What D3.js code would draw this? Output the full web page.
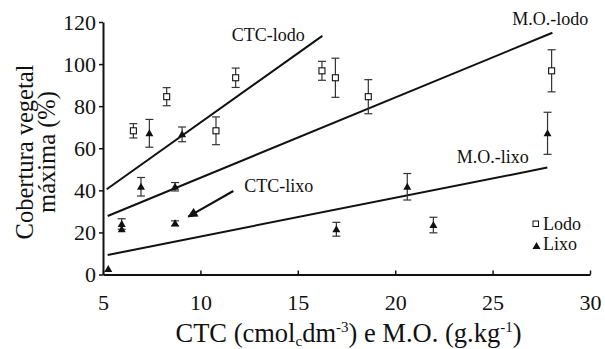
<!DOCTYPE html>
<html><head><meta charset="utf-8">
<script src="https://cdn.jsdelivr.net/npm/d3@7"></script>
<style>body{margin:0;background:#fff}svg{display:block}</style>
</head><body><svg id="c" width="605" height="349"></svg>
<script>
// ---- data ----
const xTicks = [5, 10, 15, 20, 25, 30];
const yTicks = [0, 20, 40, 60, 80, 100, 120];
const lodoX = [6.56, 8.27, 10.80, 11.81, 16.24, 16.93, 18.62, 28.03];
const lodoY = [68.3, 84.5, 68.3, 93.5, 96.8, 93.5, 84.5, 96.8];
const lodoErr = [3.4, 4.3, 6.6, 4.6, 4.5, 9.3, 8.1, 10];
const lixoX = [5.27, 5.96, 5.96, 6.95, 7.38, 8.70, 8.70, 9.06, 16.98, 20.62, 21.96, 27.82];
const lixoY = [2.6, 24.0, 21.5, 41.7, 67.1, 41.7, 24.3, 66.6, 21.5, 41.7, 23.5, 67.1];
const lixoErr = [0, 2.5, 0, 4.4, 6.6, 2.0, 1.2, 3.5, 3.3, 6.3, 3.7, 10];
// regression lines: name, intercept, slope, x range
const lineNames = ["CTC-lodo", "M.O.-lodo", "M.O.-lixo"];
const lineIntercept = [6.32, 7.81, -0.33];
const lineSlope = [6.585, 3.815, 1.839];
const lineFrom = [5.19, 5.24, 5.24];
const lineTo = [16.26, 28.07, 27.81];
// annotation labels (data coordinates)
const labelText = ["CTC-lodo", "M.O.-lodo", "M.O.-lixo", "CTC-lixo"];
const labelX = [11.61, 26.01, 23.16, 12.25];
const labelY = [111.1, 118.6, 52.9, 39.4];
const arrowFrom = [11.69, 39.7];
const arrowTo = [9.38, 27.5];
const legendNames = ["Lodo", "Lixo"];

const FONT = "Liberation Serif";
const svg = d3.select("#c").attr("font-family", FONT);
const x = d3.scaleLinear().domain([5, 30]).range([103, 590]);
const y = d3.scaleLinear().domain([0, 120]).range([274.5, 22]);
const ink = "#111";

// axes
const yAxis = svg.append("g").attr("transform", "translate(103,0)")
  .call(d3.axisLeft(y).tickValues(yTicks).tickSize(4).tickPadding(3).tickSizeOuter(0));
yAxis.selectAll("text").attr("font-size", 22).attr("dy", "0.34em");
const xAxis = svg.append("g").attr("transform", "translate(0,274.5)")
  .call(d3.axisBottom(x).tickValues(xTicks).tickSize(-4).tickPadding(0).tickSizeOuter(0));
xAxis.selectAll(".tick text").attr("font-size", 22).attr("y", 0).attr("dy", "35.5");
[yAxis, xAxis].forEach(a => {
  a.attr("font-family", FONT).attr("font-size", 22);
  a.select(".domain").attr("stroke", ink).attr("stroke-width", 2);
  a.selectAll(".tick line").attr("stroke", ink).attr("stroke-width", 1.5);
  a.selectAll("text").attr("fill", ink);
});

// regression lines
lineNames.forEach((n, i) => {
  const xs = [lineFrom[i], lineTo[i]];
  svg.append("line")
    .attr("x1", x(xs[0])).attr("y1", y(lineIntercept[i] + lineSlope[i] * xs[0]))
    .attr("x2", x(xs[1])).attr("y2", y(lineIntercept[i] + lineSlope[i] * xs[1]))
    .attr("stroke", ink).attr("stroke-width", 2);
});

// error bars
function errBars(xs, ys, es) {
  xs.forEach((xv, i) => {
    if (!es[i]) return;
    const g = svg.append("g").attr("stroke", "#333").attr("stroke-width", 1.2);
    const cx = x(xv), t = y(ys[i] + es[i]), b = y(ys[i] - es[i]);
    g.append("line").attr("x1", cx).attr("x2", cx).attr("y1", t).attr("y2", b);
    g.append("line").attr("x1", cx - 4).attr("x2", cx + 4).attr("y1", t).attr("y2", t);
    g.append("line").attr("x1", cx - 4).attr("x2", cx + 4).attr("y1", b).attr("y2", b);
  });
}
errBars(lodoX, lodoY, lodoErr);
errBars(lixoX, lixoY, lixoErr);

// markers
const tri = "M0,-4L4,3L-4,3Z";
lodoX.forEach((xv, i) => {
  svg.append("rect").attr("x", x(xv) - 3).attr("y", y(lodoY[i]) - 3).attr("width", 6).attr("height", 6)
    .attr("fill", "#fff").attr("stroke", ink).attr("stroke-width", 1.1);
});
lixoX.forEach((xv, i) => {
  svg.append("path").attr("d", tri).attr("transform", `translate(${x(xv)},${y(lixoY[i])})`).attr("fill", ink);
});

// labels
labelText.forEach((t, i) => {
  svg.append("text").attr("x", x(labelX[i])).attr("y", y(labelY[i])).attr("font-size", 18).text(t);
});
// arrow
svg.append("defs").append("marker").attr("id", "ah").attr("viewBox", "0 0 10 10").attr("refX", 9).attr("refY", 5)
  .attr("markerWidth", 5).attr("markerHeight", 4.5).attr("markerUnits", "strokeWidth").attr("orient", "auto")
  .append("path").attr("d", "M0,0L10,5L0,10Z").attr("fill", ink);
svg.append("line").attr("x1", x(arrowFrom[0])).attr("y1", y(arrowFrom[1]))
  .attr("x2", x(arrowTo[0])).attr("y2", y(arrowTo[1]))
  .attr("stroke", ink).attr("stroke-width", 2.2).attr("marker-end", "url(#ah)");

// legend
const lg = svg.append("g");
lg.append("rect").attr("x", 533).attr("y", 221).attr("width", 5.5).attr("height", 5.5)
  .attr("fill", "#fff").attr("stroke", ink).attr("stroke-width", 1);
lg.append("path").attr("d", tri).attr("transform", "translate(536.5,246)").attr("fill", ink);
lg.append("text").attr("x", 543).attr("y", 229.5).attr("font-size", 18).text(legendNames[0]);
lg.append("text").attr("x", 543).attr("y", 250).attr("font-size", 18).text(legendNames[1]);

// axis titles
const xt = svg.append("text").attr("x", 348.5).attr("y", 342).attr("text-anchor", "middle").attr("font-size", 26.5);
xt.append("tspan").text("CTC (cmol");
xt.append("tspan").attr("dy", 4).attr("font-size", 15).text("c");
xt.append("tspan").attr("dy", -4).text("dm");
xt.append("tspan").attr("dy", -10).attr("font-size", 15).text("-3");
xt.append("tspan").attr("dy", 10).text(") e M.O. (g.kg");
xt.append("tspan").attr("dy", -10).attr("font-size", 15).text("-1");
xt.append("tspan").attr("dy", 10).text(")");
const yt = svg.append("text").attr("transform", "translate(33,152) rotate(-90)").attr("text-anchor", "middle").attr("font-size", 24.5);
yt.append("tspan").attr("x", 0).attr("y", 0).text("Cobertura vegetal");
yt.append("tspan").attr("x", 0).attr("y", 22).text("máxima (%)");

svg.selectAll("text").attr("font-family", FONT).style("font-family", '"Liberation Serif", "Times New Roman", serif').attr("fill", ink);
</script></body></html>
